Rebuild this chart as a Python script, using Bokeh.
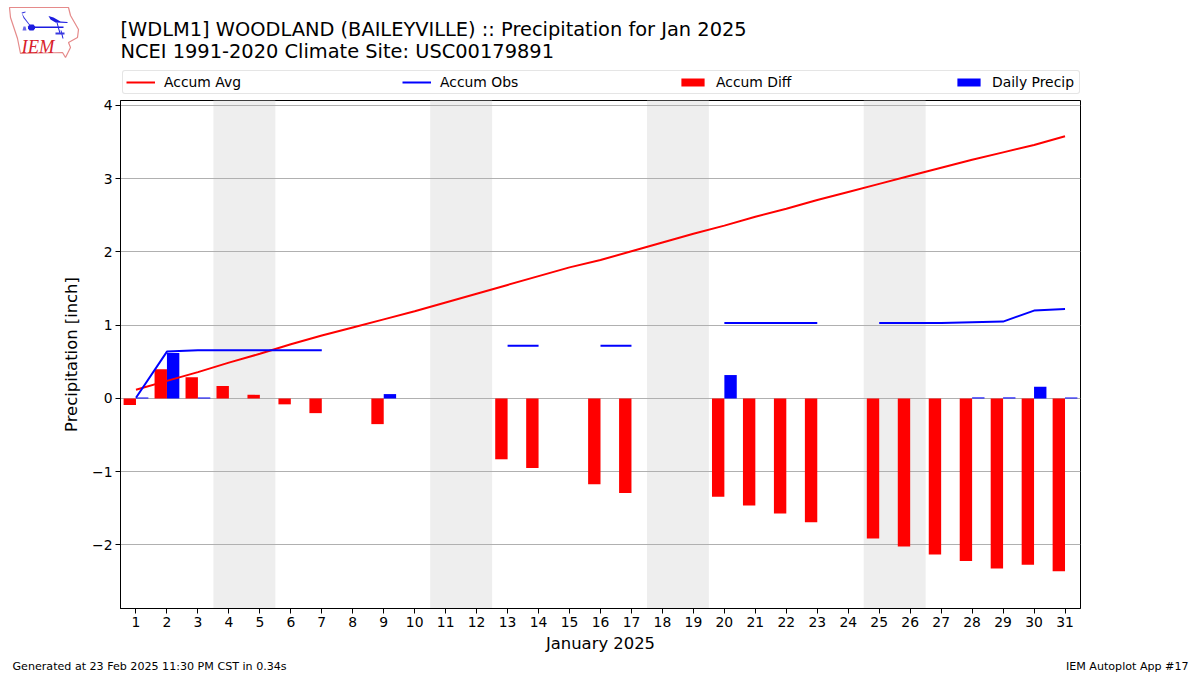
import numpy as np
from bokeh.core.properties import value
from bokeh.embed import file_html
from bokeh.layouts import column
from bokeh.resources import INLINE
from bokeh.plotting import figure
from bokeh.models import (BoxAnnotation, ColumnDataSource, FixedTicker, Legend, LegendItem, Range1d)

# ---- data ----
days = list(range(1, 32))
accum_avg = [0.12, 0.24, 0.36, 0.49, 0.61, 0.74, 0.86, 0.97, 1.08, 1.19, 1.31,
             1.43, 1.55, 1.67, 1.79, 1.89, 2.01, 2.13, 2.25, 2.36, 2.48, 2.59,
             2.71, 2.82, 2.93, 3.04, 3.15, 3.26, 3.36, 3.46, 3.58]
nan = float("nan")
accum_obs = [0.01, 0.64, 0.66, 0.66, 0.66, 0.66, 0.66, nan, nan, nan, nan, nan,
             0.72, 0.72, nan, 0.72, 0.72, nan, nan, 1.03, 1.03, 1.03, 1.03, nan,
             1.03, 1.03, 1.03, 1.04, 1.05, 1.20, 1.22]
accum_diff = [-0.09, 0.40, 0.29, 0.17, 0.05, -0.08, -0.20, 0, -0.35, 0, 0, 0,
              -0.83, -0.95, 0, -1.17, -1.29, 0, 0, -1.34, -1.46, -1.57, -1.69, 0,
              -1.91, -2.02, -2.13, -2.22, -2.32, -2.27, -2.36]
daily_precip = [0.015, 0.62, 0.015, 0, 0, 0, 0, 0, 0.06, 0, 0, 0, 0, 0, 0, 0, 0, 0,
                0, 0.32, 0, 0, 0, 0, 0, 0, 0, 0.015, 0.015, 0.16, 0.015]
weekends = [(3.5, 5.5), (10.5, 12.5), (17.5, 19.5), (24.5, 26.5)]
y_ticks = [-2, -1, 0, 1, 2, 3, 4]
title_lines = ["[WDLM1] WOODLAND (BAILEYVILLE) :: Precipitation for Jan 2025",
               "NCEI 1991-2020 Climate Site: USC00179891"]
legend_labels = ["Accum Avg", "Accum Obs", "Accum Diff", "Daily Precip"]
footer_left = "Generated at 23 Feb 2025 11:30 PM CST in 0.34s"
footer_right = "IEM Autoplot App #17"

# ---- layout ----
W = 1200
H_HEAD, H_FOOT = 97, 20
H_MAIN = 675 - H_HEAD - H_FOOT
FL, FR, FT, FB = 120, 1080, 100, 608  # frame edges in page pixels
XR = (0.5, 31.5)
YR = (-2.867, 4.068)
FONT = "DejaVu Sans"


def strip(height):
    f = figure(width=W, height=height, output_backend="svg", toolbar_location=None,
               x_range=Range1d(0, W), y_range=Range1d(height, 0),
               min_border=0, x_axis_type=None, y_axis_type=None, frame_align=False)
    f.outline_line_color = None
    f.grid.visible = False
    return f


head = strip(H_HEAD)
foot = strip(H_FOOT)

p = figure(width=W, height=H_MAIN, output_backend="svg", toolbar_location=None,
           x_range=Range1d(*XR), y_range=Range1d(*YR), frame_align=False,
           min_border_left=FL, min_border_right=W - FR,
           min_border_top=FT - H_HEAD, min_border_bottom=H_HEAD + H_MAIN - FB,
           background_fill_color="white", border_fill_color="white")
p.outline_line_color = "black"
p.outline_line_width = 1
p.xgrid.visible = False
p.ygrid.grid_line_color = "#b0b0b0"
p.ygrid.grid_line_width = 1

for a, b in weekends:
    p.add_layout(BoxAnnotation(left=a, right=b, fill_color="#eeeeee", fill_alpha=1,
                               line_alpha=0, level="image"))

x_red = [d - 0.2 for d in days]
x_blue = [d + 0.2 for d in days]
p.vbar(x=x_red, top=accum_diff, bottom=0, width=0.4, fill_color="#ff0000", line_alpha=0)
p.vbar(x=x_blue, top=daily_precip, bottom=0, width=0.4, fill_color="#0000ff", line_alpha=0)
p.line(days, accum_avg, line_color="#ff0000", line_width=2)
p.line(days, accum_obs, line_color="#0000ff", line_width=2)

# the legend sits in the strip above the plot, with key-only glyphs that draw nothing
key = ColumnDataSource(data=dict(x=[nan], y=[nan]))
k_avg = head.line("x", "y", source=key, line_color="#ff0000", line_width=2)
k_obs = head.line("x", "y", source=key, line_color="#0000ff", line_width=2)
k_diff = head.vbar("x", top="y", width=1, source=key, fill_color="#ff0000", line_alpha=0)
k_prec = head.vbar("x", top="y", width=1, source=key, fill_color="#0000ff", line_alpha=0)
legend = Legend(items=[LegendItem(label=legend_labels[i], renderers=[r], index=0)
                       for i, r in enumerate([k_avg, k_obs, k_diff, k_prec])],
                orientation="horizontal", location=(FL + 2, H_HEAD - 94),
                glyph_width=29, glyph_height=10, label_standoff=9, spacing=154,
                label_width=84, padding=3, margin=0, label_text_font=FONT,
                label_text_font_size="13.9px", label_height=15, label_text_color="black",
                border_line_color="#cccccc", border_line_width=1,
                background_fill_color="white", background_fill_alpha=1)
if "border_radius" in Legend.properties():
    legend.border_radius = 3
head.add_layout(legend, "center")

for ax in (p.xaxis[0], p.yaxis[0]):
    ax.major_label_text_font = FONT
    ax.major_label_text_font_size = "13.9px"
    ax.major_label_text_color = "black"
    ax.axis_label_text_font = FONT
    ax.axis_label_text_font_size = "16.4px"
    ax.axis_label_text_font_style = "normal"
    ax.axis_label_text_color = "black"
    ax.major_tick_out = 5
    ax.major_tick_in = 0
    ax.minor_tick_out = 0
    ax.minor_tick_in = 0
    ax.axis_line_color = "black"
    ax.major_tick_line_color = "black"
    ax.major_label_standoff = 3

p.xaxis[0].ticker = FixedTicker(ticks=days)
p.xaxis[0].axis_label = "January 2025"
p.xaxis[0].axis_label_standoff = 4
p.yaxis[0].ticker = FixedTicker(ticks=y_ticks)
p.yaxis[0].major_label_overrides = {t: str(t).replace("-", "\u2212") for t in y_ticks}
p.yaxis[0].axis_label = "Precipitation [inch]"
p.yaxis[0].axis_label_standoff = 8


def text(f, x, y, s, size, align="left", color="#000000", style="normal", font=FONT):
    f.text(x=[x], y=[y], text=[s], text_font=value(font), text_font_size=value(size),
           text_align=align, text_baseline="alphabetic", text_color=color,
           text_font_style=style)


text(head, 120, 29, title_lines[0], "19.4px")
text(head, 120, 51, title_lines[1], "19.4px")
foot_base = 666 - (H_HEAD + H_MAIN)
text(foot, 12, foot_base, footer_left, "11.1px")
text(foot, 1188, foot_base, footer_right, "11.1px", align="right")


# ---- IEM logo, drawn from simple shapes ----
def poly(pts, fill=None, line=None, lw=1):
    head.patch([a for a, _ in pts], [b for _, b in pts],
               fill_color=fill or "white", fill_alpha=1 if fill else 0,
               line_color=line or "white", line_alpha=1 if line else 0, line_width=lw)


poly([(9, 7), (68, 7), (70, 15), (78, 29), (77, 37), (68, 42), (70, 47), (65, 57),
      (62, 52), (20, 53), (17, 38), (10, 17)], line="#e58a8a", lw=1.2)
poly([(31, 26), (63, 26), (63, 27.6), (31, 27.6)], fill="#1c1ce0")
poly([(29, 24), (33, 24), (34.5, 26), (34.5, 28), (33, 30), (29, 30), (27.5, 28), (27.5, 26)], fill="#1c1ce0")
poly([(48, 15.5), (53, 17), (60, 21), (67, 21.5), (67, 22.5), (55, 22), (50, 19)], fill="#1c1ce0")
poly([(21, 12), (24, 17), (30, 25), (29.4, 25.5), (23, 17.5)], fill="#3a3ae0")
poly([(21, 12), (25, 11), (25, 12), (22, 13)], fill="#3a3ae0")
poly([(56, 22), (57, 22), (60, 33), (59, 33)], fill="#1c1ce0")
poly([(60, 30), (61, 30), (63, 38), (62, 38)], fill="#1c1ce0")
poly([(55, 32), (64, 32), (64, 34), (55, 34)], fill="#3a3ae0")
poly([(23, 26), (25, 26), (26, 30), (22, 30)], fill="#6a6ae8")
text(head, 21, 46, "IEM", "18.5px", color="#d8202a", style="italic", font="Liberation Serif")

page = column(head, p, foot, spacing=0)
open("out.html", "w").write(file_html(page, INLINE))
